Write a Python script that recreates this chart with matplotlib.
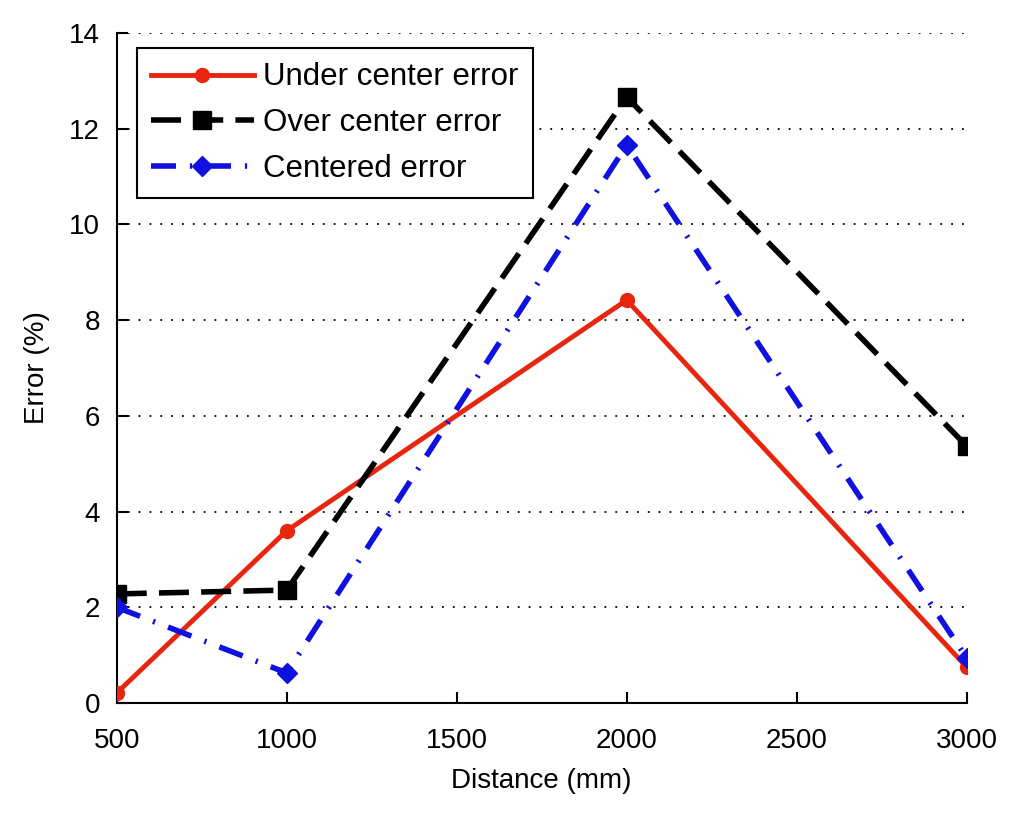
import matplotlib
matplotlib.use("Agg")
import matplotlib.pyplot as plt
from matplotlib import font_manager

names = {f.name for f in font_manager.fontManager.ttflist}
fam = "Liberation Sans Narrow" if "Liberation Sans Narrow" in names else "Liberation Sans"
plt.rcParams['font.family'] = [fam, 'DejaVu Sans']

distance = [500, 1000, 2000, 3000]
under_center = [0.21, 3.6, 8.42, 0.75]
over_center = [2.28, 2.36, 12.66, 5.37]
centered = [2.0, 0.63, 11.66, 0.94]
xticks = [500, 1000, 1500, 2000, 2500, 3000]
yticks = [0, 2, 4, 6, 8, 10, 12, 14]

fig = plt.figure(figsize=(10.24, 8.17), dpi=100)
ax = fig.add_axes([0.114, 0.1395, 0.830, 0.8201])

ax.plot(distance, under_center, '-', color='#e8260f', lw=3.5, marker='o', ms=10,
        label='Under center error', zorder=3)
ax.plot(distance, over_center, '--', color='black', lw=4, marker='s', ms=13,
        dashes=(5.4, 2.2), label='Over center error', zorder=4)
ax.plot(distance, centered, '-.', color='#1010e0', lw=4, marker='D', ms=10,
        dashes=(4.5, 2.5, 0.4, 2.5), label='Centered error', zorder=5)

ax.set_xlim(500, 3000)
ax.set_ylim(0, 14)
ax.set_xticks(xticks)
ax.set_yticks(yticks)
ax.yaxis.grid(True, linestyle=(0, (1, 5)), color='black', lw=1.3)
ax.set_axisbelow(True)
for s in ['top', 'right']:
    ax.spines[s].set_visible(False)
for s in ['left', 'bottom']:
    ax.spines[s].set_linewidth(1.5)
ax.tick_params(direction='in', length=8, width=1.5, labelsize=20)
ax.tick_params(axis='x', pad=18)
ax.tick_params(axis='y', pad=12)
ax.set_xlabel('Distance (mm)', fontsize=20, labelpad=10)
ax.set_ylabel('Error (%)', fontsize=20, labelpad=14)

leg = ax.legend(loc='upper left', bbox_to_anchor=(0.0235, 0.977), fontsize=22.5,
                frameon=True, fancybox=False, edgecolor='black', framealpha=1,
                handlelength=3.3, borderaxespad=0, labelspacing=0.5, handletextpad=0.3,
                borderpad=0.45)
leg.get_frame().set_linewidth(1.5)

fig.savefig('out.png', dpi=100)
